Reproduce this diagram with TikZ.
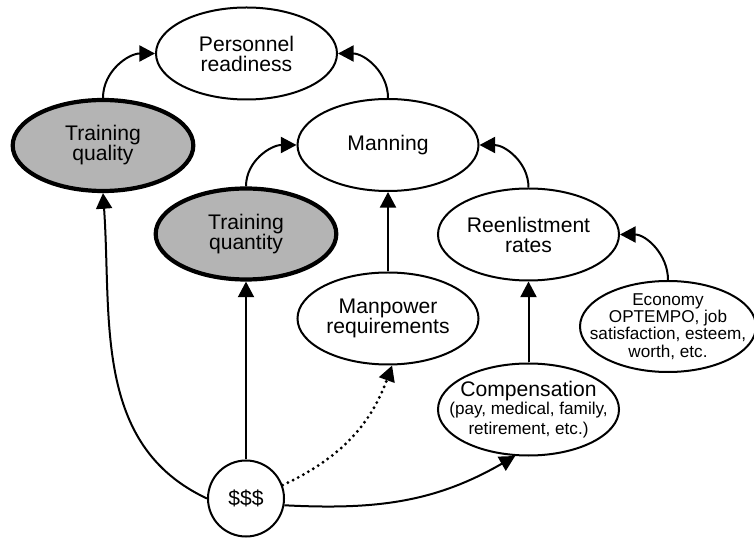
\documentclass[tikz,border=0pt]{standalone}
\usepackage{fontspec}
\setmainfont{Liberation Sans}
\usetikzlibrary{arrows.meta,shapes.geometric}
\definecolor{cTrain}{RGB}{180,180,180}
\newcommand\smallsz{\fontsize{8.6}{8.6}\selectfont}
\tikzset{
  >={Triangle[length=7.8bp,width=8bp]},
  bubble/.style={draw,ellipse,line width=1bp,minimum width=90.5bp,minimum height=46bp,
                 inner sep=0pt,align=center,font=\fontsize{10.6}{10}\selectfont},
  train/.style={bubble,fill=cTrain,line width=2.1bp,minimum width=90.3bp,minimum height=45.5bp},
  small/.style={font=\smallsz},
  money/.style={draw,circle,line width=1bp,minimum size=38bp,inner sep=0pt,
                font=\fontsize{10.6}{10}\selectfont},
  link/.style={->,line width=1bp},
  weak/.style={->,line width=1.6bp,line cap=round,dash pattern=on 0pt off 2.9bp},
}
\begin{document}
\begin{tikzpicture}[x=0.5bp,y=0.5bp]
  \useasboundingbox (0,0) rectangle (754,-538);
  % ellipses, placed at pixel positions of the chart
  \node[bubble] (pr) at (246.5,-53.5) {Personnel\\readiness};
  \node[train] (tqual) at (103,-145.5) {Training\\quality};
  \node[bubble] (man) at (388,-145) {Manning};
  \node[train] (tquan) at (246,-234) {Training\\quantity};
  \node[bubble] (reen) at (528.5,-234.5) {Reenlistment\\rates};
  \node[bubble] (mpow) at (388,-318.5) {Manpower\\requirements};
  \node[bubble,small,minimum width=88bp,minimum height=45.5bp,inner xsep=-8.5bp,inner ysep=-1.5bp]
    (econ) at (668,-326.5) {Economy\\OPTEMPO, job\\satisfaction, esteem,\\worth, etc.};
  \node[bubble,inner xsep=-8bp] (comp) at (528.5,-409.5)
    {Compensation\\[-1bp]\smallsz (pay, medical, family,\\\smallsz retirement, etc.)};
  \node[money] (cash) at (246,-498.5) {\$\$\$};
  % arcs into the upper ellipses
  \draw[link] (tqual.north) to[out=90,in=180] (pr.west);
  \draw[link] (man.north) to[out=90,in=0] (pr.east);
  \draw[link] (tquan.north) to[out=90,in=180] (man.west);
  \draw[link] (reen.north) to[out=90,in=0] (man.east);
  \draw[link] (econ.north) to[out=90,in=0] (reen.east);
  % straight ones
  \draw[link] (mpow) -- (man);
  \draw[link] (comp) -- (reen);
  \draw[link] (cash) -- (tquan);
  % money flows
  \draw[link] (cash.west) to[out=155,in=-86] (tqual.south);
  \draw[weak] (cash.20) to[out=25,in=-110] (mpow.-85);
  \draw[link] (cash.-10) to[out=-3,in=210] (comp.-106);
\end{tikzpicture}
\end{document}
